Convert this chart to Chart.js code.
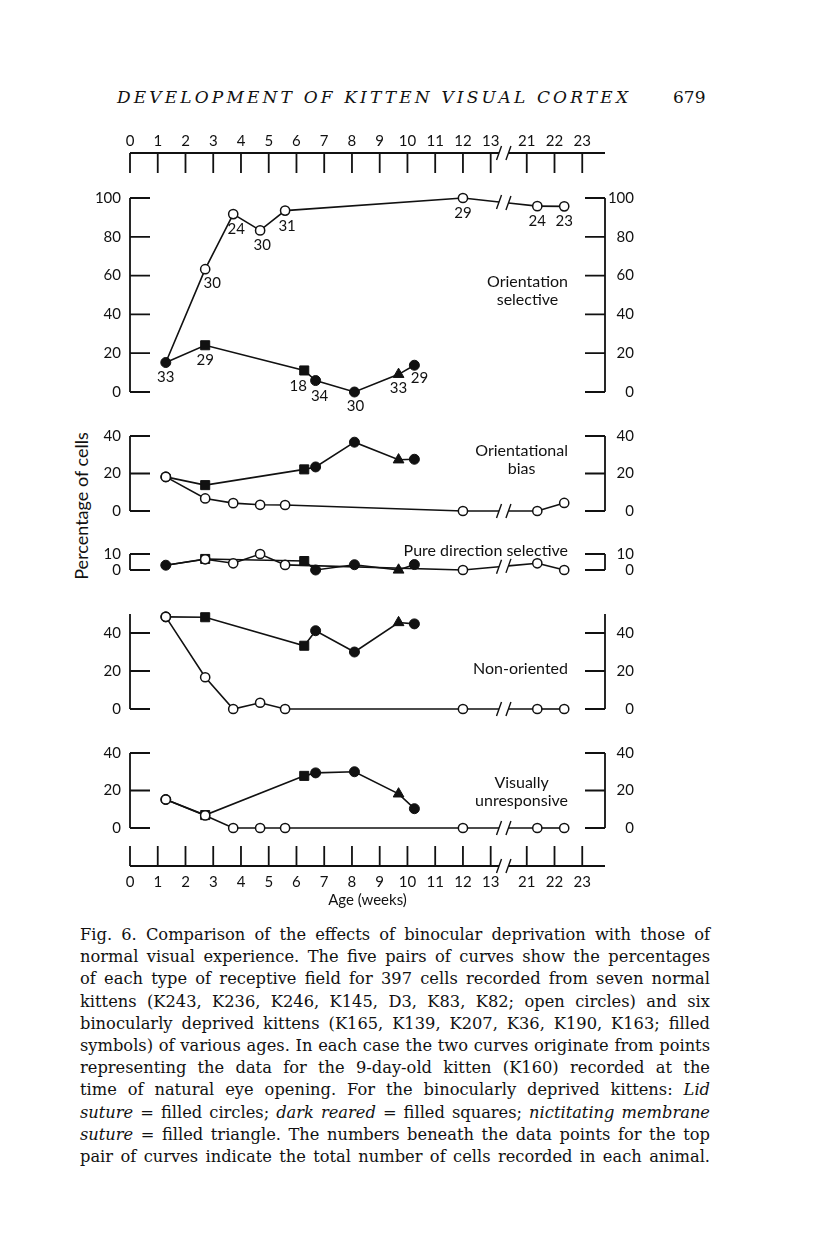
<!DOCTYPE html>
<html>
<head>
<meta charset="utf-8">
<title>Fig. 6 - development of kitten visual cortex</title>
<script src="https://cdn.jsdelivr.net/npm/chart.js@4.4.1/dist/chart.umd.min.js"></script>
<style>
  html, body { margin: 0; padding: 0; background: #fff; }
  body { width: 816px; height: 1233px; position: relative; overflow: hidden; color: #111; }
  canvas { position: absolute; left: 0; }
  .runhead { position: absolute; top: 87px; left: 117px; font: italic 17px 'DejaVu Serif', serif; white-space: nowrap; }
  .folio { position: absolute; top: 87px; left: 673px; font: 17px 'DejaVu Serif', serif; }
  .ylabel { position: absolute; left: 81px; top: 506px; font: 18px Lato, sans-serif; white-space: nowrap;
            transform: translate(-50%, -50%) rotate(-90deg); }
  .caption { position: absolute; left: 80px; top: 924px; width: 630px; font: 16px/22.2px 'DejaVu Serif', serif; }
  .caption div { text-align: justify; text-align-last: justify; white-space: nowrap; }
</style>
</head>
<body>
<div class="runhead" id="runhead">DEVELOPMENT OF KITTEN VISUAL CORTEX</div>
<div class="folio">679</div>
<div class="ylabel">Percentage of cells</div>
<div class="caption" id="caption">
  <div>Fig. 6. Comparison of the effects of binocular deprivation with those of</div>
  <div>normal visual experience. The five pairs of curves show the percentages</div>
  <div>of each type of receptive field for 397 cells recorded from seven normal</div>
  <div>kittens (K243, K236, K246, K145, D3, K83, K82; open circles) and six</div>
  <div>binocularly deprived kittens (K165, K139, K207, K36, K190, K163; filled</div>
  <div>symbols) of various ages. In each case the two curves originate from points</div>
  <div>representing the data for the 9-day-old kitten (K160) recorded at the</div>
  <div>time of natural eye opening. For the binocularly deprived kittens: <i>Lid</i></div>
  <div><i>suture</i> = filled circles; <i>dark reared</i> = filled squares; <i>nictitating membrane</i></div>
  <div><i>suture</i> = filled triangle. The numbers beneath the data points for the top</div>
  <div>pair of curves indicate the total number of cells recorded in each animal.</div>
</div>
<script>
// ---- data (ages in weeks, values in % of cells) ----
const tickWeeks = [0, 1, 2, 3, 4, 5, 6, 7, 8, 9, 10, 11, 12, 13, 21, 22, 23];
const tickLabels = ['0', '1', '2', '3', '4', '5', '6', '7', '8', '9', '10', '11', '12', '13', '21', '22', '23'];

const normalAges = [1.29, 2.71, 3.72, 4.69, 5.59, 12, 21.38, 22.35];
const deprivedAges = [1.29, 2.71, 6.28, 6.69, 8.09, 9.68, 10.25];
const deprivedRearing = ['K160', 'dark', 'dark', 'lid', 'lid', 'nictitating', 'lid'];

const normalCellCounts = [33, 30, 24, 30, 31, 29, 24, 23];
const deprivedCellCounts = [null, 29, 18, 34, 30, 33, 29];

const orientSelNormal = [15.2, 63.3, 91.7, 83.3, 93.5, 100, 95.8, 95.7];
const orientSelDeprived = [15.2, 24.1, 11.1, 5.9, 0, 9.1, 13.8];
const orientBiasNormal = [18.2, 6.7, 4.2, 3.3, 3.2, 0, 0, 4.3];
const orientBiasDeprived = [18.2, 13.8, 22.2, 23.5, 36.7, 27.3, 27.6];
const pureDirNormal = [3.0, 6.7, 4.2, 10.0, 3.2, 0, 4.2, 0];
const pureDirDeprived = [3.0, 6.9, 5.6, 0, 3.3, 0, 3.4];
const nonOrientNormal = [48.5, 16.7, 0, 3.3, 0, 0, 0, 0];
const nonOrientDeprived = [48.5, 48.3, 33.3, 41.2, 30.0, 45.5, 44.8];
const unrespNormal = [15.2, 6.7, 0, 0, 0, 0, 0, 0];
const unrespDeprived = [15.2, 6.9, 27.8, 29.4, 30.0, 18.2, 10.3];

const ticks100 = [0, 20, 40, 60, 80, 100];
const ticks40 = [0, 20, 40];
const ticks10 = [0, 10];

const panelTitles = [
  ['Orientation', 'selective'],
  ['Orientational', 'bias'],
  ['Pure direction selective'],
  ['Non-oriented'],
  ['Visually', 'unresponsive']
];

// ---- broken age axis: weeks 13 -> 21 are squeezed into a short gap ----
const X_MAX = 17.12;
const BREAK_END = 14.3;
const BREAK_MARKS = [13.3, 13.64];
const weekPos = w => (w <= 13 ? w : w - 21 + BREAK_END);
const BREAK_INDEX = normalAges.findIndex(a => a > 13) - 1;

Chart.defaults.font.family = 'Lato, sans-serif';
Chart.defaults.color = '#111';

const INK = '#111';

function breakMark(ctx, x, y) {
  ctx.moveTo(x - 2.5, y + 7);
  ctx.lineTo(x + 2.5, y - 7);
}

function makeCanvas(top, height) {
  const c = document.createElement('canvas');
  c.width = 816;
  c.height = height;
  c.style.top = top + 'px';
  document.body.appendChild(c);
  return c;
}

const baseOptions = () => ({
  responsive: false,
  animation: false,
  events: [],
  devicePixelRatio: 1
});

// axis line + inward ticks for the age axes
const weekAxisPlugin = {
  id: 'weekAxis',
  afterDraw(chart, args, opts) {
    const { ctx, chartArea: a, scales: { x } } = chart;
    const yLine = opts.side === 'top' ? a.top : a.bottom;
    const dir = opts.side === 'top' ? 1 : -1;
    const b1 = x.getPixelForValue(BREAK_MARKS[0]);
    const b2 = x.getPixelForValue(BREAK_MARKS[1]);
    ctx.save();
    ctx.strokeStyle = INK;
    ctx.lineWidth = 1.8;
    ctx.beginPath();
    ctx.moveTo(a.left, yLine); ctx.lineTo(b1, yLine);
    ctx.moveTo(b2, yLine); ctx.lineTo(a.right, yLine);
    tickWeeks.forEach(w => {
      const px = x.getPixelForValue(weekPos(w));
      ctx.moveTo(px, yLine); ctx.lineTo(px, yLine + dir * 20);
    });
    ctx.stroke();
    ctx.lineWidth = 1.4;
    ctx.beginPath();
    breakMark(ctx, b1, yLine);
    breakMark(ctx, b2, yLine);
    ctx.stroke();
    ctx.restore();
  }
};

function weekScale(position, extra) {
  return Object.assign({
    type: 'linear', position, min: 0, max: X_MAX,
    afterBuildTicks: s => { s.ticks = tickWeeks.map(w => ({ value: weekPos(w) })); },
    ticks: { callback: (v, i) => tickLabels[i], font: { size: 15 }, color: INK, maxRotation: 0, autoSkip: false },
    grid: { display: false, drawTicks: false },
    border: { display: false }
  }, extra);
}

// top age axis
new Chart(makeCanvas(110, 70), {
  type: 'scatter',
  data: { datasets: [] },
  plugins: [weekAxisPlugin],
  options: Object.assign(baseOptions(), {
    layout: { padding: { left: 130, right: 211, top: 0, bottom: 0 } },
    plugins: { legend: { display: false }, tooltip: { enabled: false }, weekAxis: { side: 'top' } },
    scales: {
      x: weekScale('top', { afterFit: s => { s.height = 43; } }),
      y: { display: false }
    }
  })
});

// bottom age axis
const bottomX = weekScale('bottom', {
  afterFit: s => { s.height = 64; },
  title: { display: true, text: 'Age (weeks)', font: { size: 15 }, color: INK, padding: { top: 0, bottom: 21 } }
});
bottomX.ticks.padding = 7;
new Chart(makeCanvas(830, 100), {
  type: 'scatter',
  data: { datasets: [] },
  plugins: [weekAxisPlugin],
  options: Object.assign(baseOptions(), {
    layout: { padding: { left: 130, right: 211, top: 15, bottom: 0 } },
    plugins: { legend: { display: false }, tooltip: { enabled: false }, weekAxis: { side: 'bottom' } },
    scales: { x: bottomX, y: { display: false } }
  })
});

// bracket axes on both sides of each panel
const bracketPlugin = {
  id: 'bracket',
  beforeDatasetsDraw(chart, args, opts) {
    const { ctx, chartArea: a, scales: { y } } = chart;
    const top = y.getPixelForValue(y.max);
    const bot = y.getPixelForValue(0);
    ctx.save();
    ctx.strokeStyle = INK;
    ctx.lineWidth = 1.8;
    ctx.beginPath();
    ctx.moveTo(a.left, top); ctx.lineTo(a.left, bot);
    ctx.moveTo(a.right, top); ctx.lineTo(a.right, bot);
    opts.ticks.forEach(v => {
      const py = y.getPixelForValue(v);
      ctx.moveTo(a.left, py); ctx.lineTo(a.left + 20, py);
      ctx.moveTo(a.right - 20, py); ctx.lineTo(a.right, py);
    });
    ctx.stroke();
    ctx.restore();
  }
};

// the normal curve is interrupted where the age axis is broken
const lineBreakPlugin = {
  id: 'lineBreak',
  beforeDatasetsDraw(chart) {
    const { ctx, scales: { x } } = chart;
    const pts = chart.getDatasetMeta(0).data;
    const p0 = pts[BREAK_INDEX], p1 = pts[BREAK_INDEX + 1];
    const yAt = px => p0.y + (p1.y - p0.y) * (px - p0.x) / (p1.x - p0.x);
    const xa = x.getPixelForValue(BREAK_MARKS[0]);
    const xb = x.getPixelForValue(BREAK_MARKS[1]);
    ctx.save();
    ctx.strokeStyle = INK;
    ctx.lineWidth = 1.6;
    ctx.beginPath();
    ctx.moveTo(p0.x, p0.y); ctx.lineTo(xa, yAt(xa));
    ctx.moveTo(xb, yAt(xb)); ctx.lineTo(p1.x, p1.y);
    ctx.stroke();
    ctx.lineWidth = 1.4;
    ctx.beginPath();
    breakMark(ctx, xa, yAt(xa));
    breakMark(ctx, xb, yAt(xb));
    ctx.stroke();
    ctx.restore();
  }
};

// panel name, right-hand side
const panelTitlePlugin = {
  id: 'panelTitle',
  afterDraw(chart, args, opts) {
    const { ctx, chartArea: a, scales: { y } } = chart;
    ctx.save();
    ctx.font = '16px Lato, sans-serif';
    ctx.fillStyle = INK;
    ctx.textAlign = 'center';
    ctx.textBaseline = 'middle';
    const widest = Math.max(...opts.lines.map(t => ctx.measureText(t).width));
    const cx = a.right - 37 - widest / 2;
    const y0 = y.getPixelForValue(opts.at);
    opts.lines.forEach((t, i) => ctx.fillText(t, cx, y0 + i * 18));
    ctx.restore();
  }
};

// cell counts under the points of the top pair of curves
const normalCountOffsets = [[0, 15], [7, 14], [3, 15], [2, 15], [2, 16], [0, 15], [0, 15], [0, 15]];
const deprivedCountOffsets = [null, [0, 15], [-6, 16], [4, 16], [1, 14], [0, 14], [5, 13]];
const countsPlugin = {
  id: 'counts',
  afterDatasetsDraw(chart, args, opts) {
    if (!opts.show) return;
    const { ctx } = chart;
    ctx.save();
    ctx.font = '15px Lato, sans-serif';
    ctx.fillStyle = INK;
    ctx.textAlign = 'center';
    ctx.textBaseline = 'middle';
    const put = (meta, counts, offs) => meta.data.forEach((pt, i) => {
      if (counts[i] == null) return;
      ctx.fillText(String(counts[i]), pt.x + offs[i][0], pt.y + offs[i][1]);
    });
    put(chart.getDatasetMeta(0), normalCellCounts, normalCountOffsets);
    put(chart.getDatasetMeta(1), deprivedCellCounts, deprivedCountOffsets);
    ctx.restore();
  }
};

const symbolFor = r => ({ dark: 'rect', nictitating: 'triangle' }[r] || 'circle');
const radiusFor = r => ({ dark: 6.4, nictitating: 6.2 }[r] || 5);

const panels = [
  { top: 194, height: 198, max: 100, ticks: ticks100, normal: orientSelNormal, deprived: orientSelDeprived, title: panelTitles[0], titleAt: 57, startFilled: true, counts: true },
  { top: 432, height: 79, max: 40, ticks: ticks40, normal: orientBiasNormal, deprived: orientBiasDeprived, title: panelTitles[1], titleAt: 32 },
  { top: 550, height: 20, max: 10, ticks: ticks10, normal: pureDirNormal, deprived: pureDirDeprived, title: panelTitles[2], titleAt: 11.8, startFilled: true },
  { top: 610, height: 99, max: 50, ticks: ticks40, normal: nonOrientNormal, deprived: nonOrientDeprived, title: panelTitles[3], titleAt: 21 },
  { top: 749, height: 79, max: 40, ticks: ticks40, normal: unrespNormal, deprived: unrespDeprived, title: panelTitles[4], titleAt: 24.3 }
];

const PAD_TOP = 14, PAD_BOTTOM = 30;

panels.forEach(p => {
  const yScale = (position, width, crossAlign) => ({
    type: 'linear', position, min: 0, max: p.max,
    afterBuildTicks: s => { s.ticks = p.ticks.map(v => ({ value: v })); },
    afterFit: s => { s.width = width; },
    ticks: { callback: v => String(v), font: { size: 15 }, color: INK, padding: 9, crossAlign, autoSkip: false },
    grid: { display: false, drawTicks: false },
    border: { display: false }
  });

  new Chart(makeCanvas(p.top - PAD_TOP, p.height + PAD_TOP + PAD_BOTTOM), {
    type: 'line',
    data: {
      datasets: [
        {
          label: 'Normal',
          data: normalAges.map((a, i) => ({ x: weekPos(a), y: p.normal[i] })),
          order: 0,
          borderColor: INK,
          borderWidth: 1.6,
          tension: 0,
          clip: false,
          pointStyle: 'circle',
          pointRadius: ctx => (p.startFilled && ctx.dataIndex === 0 ? 0 : 4.6),
          pointBackgroundColor: '#fff',
          pointBorderColor: INK,
          pointBorderWidth: 1.5,
          segment: { borderColor: ctx => (ctx.p0DataIndex === BREAK_INDEX ? 'rgba(0,0,0,0)' : INK) }
        },
        {
          label: 'Binocularly deprived',
          data: deprivedAges.map((a, i) => ({ x: weekPos(a), y: p.deprived[i] })),
          order: 1,
          borderColor: INK,
          borderWidth: 1.6,
          tension: 0,
          clip: false,
          pointStyle: deprivedRearing.map(symbolFor),
          pointRadius: deprivedRearing.map(radiusFor),
          pointBackgroundColor: INK,
          pointBorderColor: INK,
          pointBorderWidth: 1
        }
      ]
    },
    plugins: [bracketPlugin, lineBreakPlugin, panelTitlePlugin, countsPlugin],
    options: Object.assign(baseOptions(), {
      layout: { padding: { left: 0, right: 182, top: PAD_TOP, bottom: PAD_BOTTOM } },
      plugins: {
        legend: { display: false },
        tooltip: { enabled: false },
        bracket: { ticks: p.ticks },
        panelTitle: { lines: p.title, at: p.titleAt },
        counts: { show: !!p.counts }
      },
      scales: {
        x: { type: 'linear', min: 0, max: X_MAX, display: false },
        y: yScale('left', 130, 'near'),
        y2: yScale('right', 29, 'far')
      }
    })
  });
});

// stretch the running head to its measure
const head = document.getElementById('runhead');
const natural = head.getBoundingClientRect().width;
head.style.letterSpacing = ((511 - natural) / (head.textContent.length - 1)) + 'px';

// size the caption so its longest line just fills the measure
const cap = document.getElementById('caption');
const capLines = [...cap.children];
capLines.forEach(d => { d.style.display = 'inline-block'; });
const widestLine = Math.max(...capLines.map(d => d.getBoundingClientRect().width));
capLines.forEach(d => { d.style.display = ''; });
cap.style.fontSize = (16 * 624 / widestLine) + 'px';
</script>
</body>
</html>
